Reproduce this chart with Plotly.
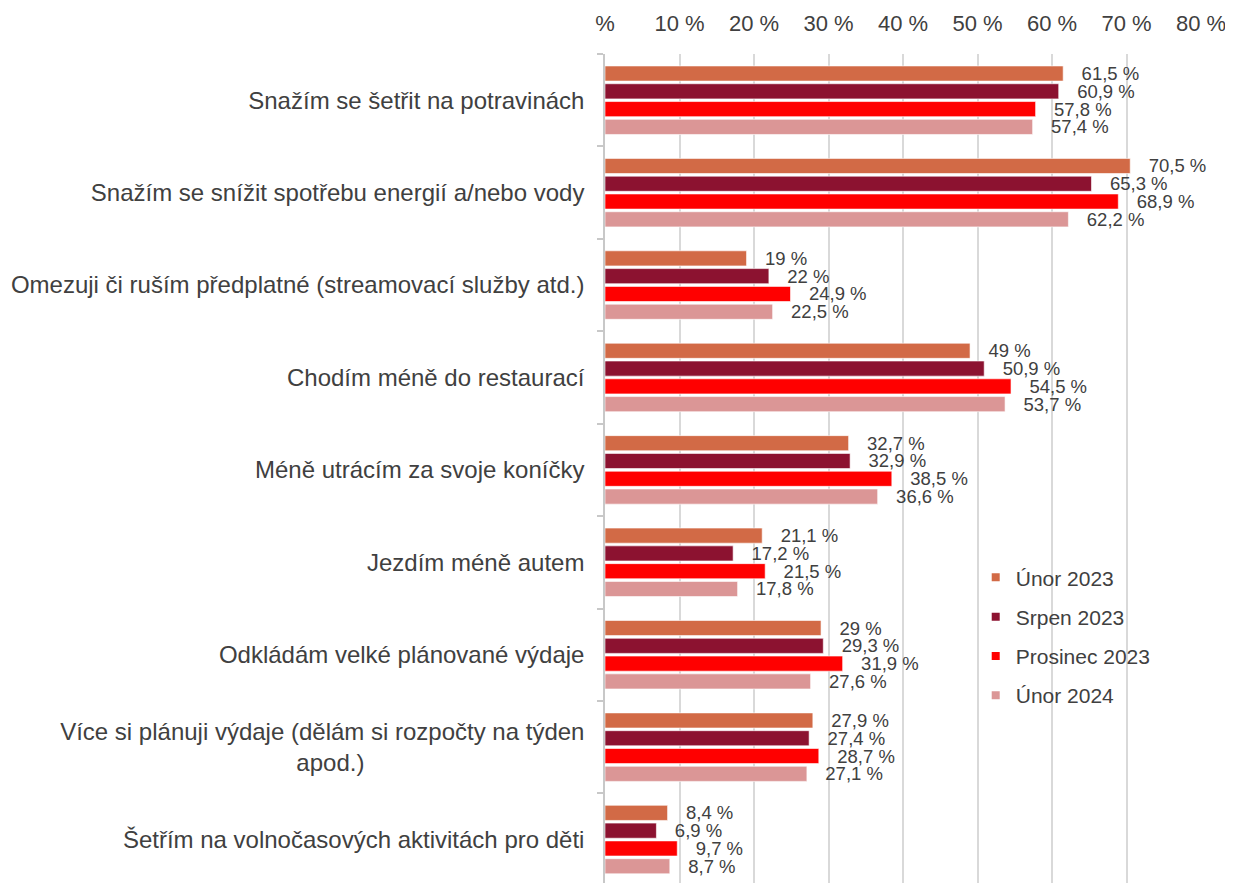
import plotly.graph_objects as go

categories = [
    "Snažím se šetřit na potravinách",
    "Snažím se snížit spotřebu energií a/nebo vody",
    "Omezuji či ruším předplatné (streamovací služby atd.)",
    "Chodím méně do restaurací",
    "Méně utrácím za svoje koníčky",
    "Jezdím méně autem",
    "Odkládám velké plánované výdaje",
    "Více si plánuji výdaje (dělám si rozpočty na týden<br>apod.)" + "\u00a0" * 33,
    "Šetřím na volnočasových aktivitách pro děti",
]
series_names = ["Únor 2023", "Srpen 2023", "Prosinec 2023", "Únor 2024"]
unor_2023 = [61.5, 70.5, 19, 49, 32.7, 21.1, 29, 27.9, 8.4]
srpen_2023 = [60.9, 65.3, 22, 50.9, 32.9, 17.2, 29.3, 27.4, 6.9]
prosinec_2023 = [57.8, 68.9, 24.9, 54.5, 38.5, 21.5, 31.9, 28.7, 9.7]
unor_2024 = [57.4, 62.2, 22.5, 53.7, 36.6, 17.8, 27.6, 27.1, 8.7]
tick_vals = [0, 10, 20, 30, 40, 50, 60, 70, 80]
tick_text = ["%", "10 %", "20 %", "30 %", "40 %", "50 %", "60 %", "70 %", "80 %"]
colors = ["#D26A46", "#8C1230", "#FF0000", "#DB9696"]

series = [unor_2023, srpen_2023, prosinec_2023, unor_2024]


def fmt(v):
    s = ("%.1f" % v).rstrip("0").rstrip(".")
    return "\u00a0\u00a0\u00a0" + s.replace(".", ",") + " %"


FONT = "Liberation Sans, Arial, sans-serif"
TXT = "#404040"

fig = go.Figure()
for name, vals, col in zip(series_names, series, colors):
    fig.add_trace(go.Bar(
        y=categories, x=vals, orientation="h", name=name,
        marker=dict(color=col, line=dict(color="rgba(255,255,255,0.6)", width=1)),
        text=[fmt(v) for v in vals], textposition="outside",
        textfont=dict(size=18.5, color=TXT, family=FONT),
        constraintext="none", cliponaxis=False, showlegend=False,
    ))
for i, (name, col) in enumerate(zip(series_names, colors)):
    fig.add_trace(go.Scatter(
        x=[None], y=[None], mode="markers", name=name,
        marker=dict(symbol="square", size=8, color=col),
        legendgroup="g%d" % i, showlegend=True,
    ))

fig.update_layout(
    width=1225, height=875,
    margin=dict(l=597, r=32, t=46, b=0),
    paper_bgcolor="white", plot_bgcolor="white",
    barmode="group", bargap=0.23, bargroupgap=0.15,
    font=dict(family=FONT, color=TXT),
    legend=dict(
        x=0.622, y=0.393, xanchor="left", yanchor="top",
        bgcolor="rgba(0,0,0,0)", font=dict(size=21, color=TXT, family=FONT),
        tracegroupgap=9,
    ),
    xaxis=dict(
        side="top", range=[0, 80], tickvals=tick_vals, ticktext=tick_text,
        showgrid=True, gridcolor="#D9D9D9", gridwidth=1.5, zeroline=False,
        tickfont=dict(size=22, color=TXT, family=FONT),
        ticks="", ticklabelstandoff=18, showline=False,
    ),
    yaxis=dict(
        range=[8.47, -0.5], showline=True, linecolor="#C8C8C8", linewidth=1.5,
        ticks="outside", tickson="boundaries", ticklen=6, tickcolor="#C8C8C8",
        tickwidth=1.5, showgrid=False,
        tickfont=dict(size=24, color=TXT, family=FONT), ticklabelstandoff=14,
    ),
)

fig.write_html("out.html")
